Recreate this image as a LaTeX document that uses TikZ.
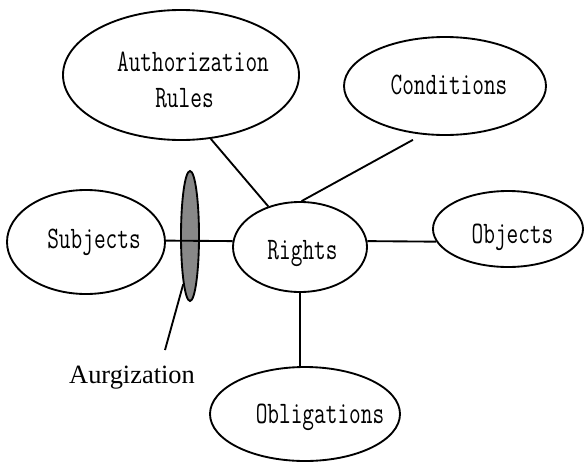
\documentclass[tikz,border=0pt]{standalone}
\usepackage{fontspec}
\usepackage{graphicx}
\usetikzlibrary{shapes.geometric}
\newfontfamily\tnr{Liberation Serif}
\newcommand\monotxt[1]{\scalebox{1}[1.38]{\fontsize{17}{20}\selectfont\ttfamily #1}}
\tikzset{
  ell/.style 2 args={ellipse, draw, line width=1.4pt, inner sep=0pt, fill=white,
    minimum width=#1*0.75pt, minimum height=#2*0.75pt},
  lbl/.style={anchor=base, inner sep=0pt},
  conn/.style={line width=1.4pt},
}
\begin{document}
\begin{tikzpicture}[x=0.75pt,y=-0.75pt]
\useasboundingbox (0,0) rectangle (584,464);
\fill[white] (0,0) rectangle (584,464);
% ellipses
\node[ell={158}{104}] (subj) at (86,242) {};
\node[ell={18}{130}, fill={rgb,255:red,136;green,136;blue,136}] (aurg) at (190,236) {};
\node[ell={134}{90}] (rights) at (300,247) {};
\node[ell={150}{76}] (objects) at (508,229) {};
\node[ell={202}{98}] (cond) at (445,86) {};
\node[ell={236}{130}] (auth) at (181,75) {};
\node[ell={190}{94}] (oblig) at (305,414) {};
% labels
\node[lbl] (subjtxt) at (94,248) {\monotxt{Subjects}};
\node[lbl] (rightstxt) at (302.5,259) {\monotxt{Rights}};
\node[lbl] (objtxt) at (512.5,243) {\monotxt{Objects}};
\node[lbl] (condtxt) at (449,94) {\monotxt{Conditions}};
\node[lbl] (obligtxt) at (320,423) {\monotxt{Obligations}};
\node[lbl] (authtxt1) at (193,71) {\monotxt{Authorization}};
\node[lbl] (authtxt2) at (184.5,107) {\monotxt{Rules}};
\node[lbl] (aurgtxt) at (132,383) {\fontsize{19.8}{22}\selectfont\tnr Aurgization};
\coordinate (aurgtip) at (165,350);
% connectors
\draw[conn] (subj.1) -- (rights.175);
\draw[conn] (rights.5) -- (objects.190);
\draw[conn] (rights.south) -- (oblig.96);
\draw[conn] (auth.-65) -- (rights.128);
\draw[conn, shorten <=8pt] (cond.245) -- (rights.88);
\draw[conn] (aurg.262) -- (aurgtip);
\end{tikzpicture}
\end{document}
